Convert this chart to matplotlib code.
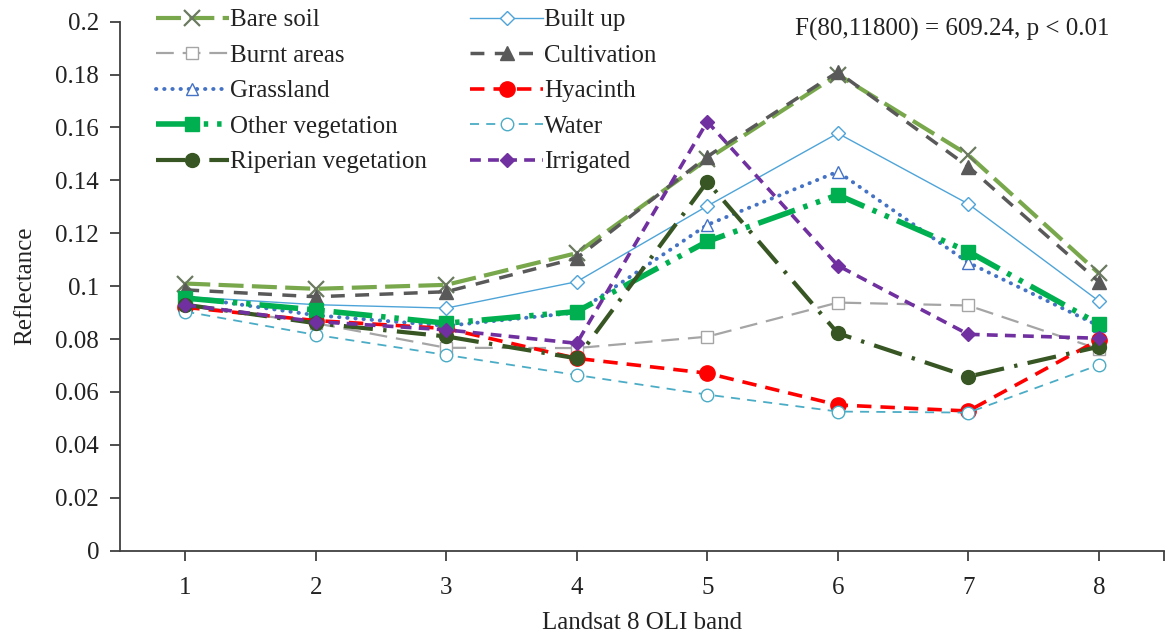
import matplotlib
matplotlib.use("Agg")
import matplotlib.pyplot as plt
from matplotlib.ticker import FuncFormatter, FixedLocator

bands = [1, 2, 3, 4, 5, 6, 7, 8]
band_labels = ["1", "2", "3", "4", "5", "6", "7", "8"]

bare_soil = [0.101, 0.099, 0.1005, 0.1125, 0.148, 0.180, 0.1496, 0.1049]
built_up = [0.096, 0.093, 0.0917, 0.1017, 0.1303, 0.1578, 0.1311, 0.0944]
burnt_areas = [0.093, 0.086, 0.0767, 0.0766, 0.0809, 0.0938, 0.0927, 0.0762]
cultivation = [0.0986, 0.096, 0.0979, 0.1106, 0.149, 0.181, 0.1452, 0.1017]
grassland = [0.096, 0.089, 0.085, 0.090, 0.1232, 0.1433, 0.1089, 0.085]
hyacinth = [0.092, 0.087, 0.084, 0.0727, 0.0671, 0.0551, 0.0528, 0.0797]
other_vegetation = [0.0955, 0.091, 0.086, 0.0904, 0.1169, 0.1345, 0.1131, 0.0857]
water = [0.0904, 0.0816, 0.074, 0.0664, 0.059, 0.0526, 0.0522, 0.0702]
riperian_vegetation = [0.093, 0.086, 0.081, 0.0727, 0.1395, 0.0822, 0.0658, 0.0771]
irrigated = [0.0929, 0.0866, 0.0835, 0.0784, 0.1622, 0.1078, 0.0818, 0.0803]

names = ["Bare soil", "Built up", "Burnt areas", "Cultivation", "Grassland",
         "Hyacinth", "Other vegetation", "Water", "Riperian vegetation", "Irrigated"]
series = [bare_soil, built_up, burnt_areas, cultivation, grassland,
          hyacinth, other_vegetation, water, riperian_vegetation, irrigated]

styles = [
    dict(color="#78a84b", lw=3.0, ls=(0, (6, 2)), marker="x", ms=12, mew=1.6, mfc="#78a84b", mec="#6b7a60"),
    dict(color="#4ea4d8", lw=1.0, ls="-", marker="D", ms=7, mew=1.0, mfc="white", mec="#4ea4d8"),
    dict(color="#a5a5a5", lw=1.6, ls=(0, (8, 4)), marker="s", ms=8, mew=1.0, mfc="white", mec="#a5a5a5"),
    dict(color="#595959", lw=2.5, ls=(0, (4, 3)), marker="^", ms=10, mew=1.0, mfc="#595959", mec="#595959"),
    dict(color="#4472c4", lw=2.8, ls=(0, (0.1, 2.0)), marker="^", ms=9, mew=1.0, mfc="white", mec="#4472c4"),
    dict(color="#ff0000", lw=2.6, ls=(0, (4, 2.5)), marker="o", ms=11, mew=1.0, mfc="#ff0000", mec="#ff0000"),
    dict(color="#00b050", lw=4.0, ls=(0, (7, 1.6, 0.8, 1.6, 0.8, 1.6)), marker="s", ms=10, mew=1.0, mfc="#00b050", mec="#00b050"),
    dict(color="#4bacc6", lw=1.3, ls=(0, (5, 4)), marker="o", ms=9, mew=1.0, mfc="white", mec="#4bacc6"),
    dict(color="#375623", lw=3.0, ls=(0, (7, 2.5, 0.8, 2.5)), marker="o", ms=10, mew=1.0, mfc="#375623", mec="#375623"),
    dict(color="#7030a0", lw=2.6, ls=(0, (3, 2)), marker="D", ms=7, mew=1.0, mfc="#7030a0", mec="#7030a0"),
]

plt.rcParams['font.family'] = ['Liberation Serif', 'DejaVu Serif']
FS = 18

fig = plt.figure(figsize=(11.72, 6.37), dpi=100)
ax = fig.add_axes([0.1024, 0.1355, 0.8908, 0.8305])

handles = []
for name, vals, st in zip(names, series, styles):
    h, = ax.plot(bands, vals, color=st["color"], lw=st["lw"], linestyle=st["ls"],
                 marker=st["marker"], markersize=st["ms"], markeredgewidth=st["mew"],
                 markerfacecolor=st["mfc"], markeredgecolor=st["mec"], label=name)
    if name == "Grassland":
        h.set_dash_capstyle("round")
    handles.append(h)

ax.set_xlim(0.5, 8.5)
ax.set_ylim(0, 0.2)
ax.xaxis.set_major_locator(FixedLocator(bands + [8.5]))
ax.xaxis.set_major_formatter(FuncFormatter(lambda v, p: band_labels[int(round(v)) - 1] if abs(v - round(v)) < 1e-6 and 1 <= round(v) <= 8 else ""))
ax.set_yticks([0, 0.02, 0.04, 0.06, 0.08, 0.1, 0.12, 0.14, 0.16, 0.18, 0.2])
ax.yaxis.set_major_formatter(FuncFormatter(lambda v, p: "%g" % round(v, 2)))

for s in ["top", "right"]:
    ax.spines[s].set_visible(False)
for s in ["left", "bottom"]:
    ax.spines[s].set_color("#404040")
    ax.spines[s].set_linewidth(1.3)
ax.tick_params(axis="both", direction="out", length=7, width=1.3, color="#404040",
               labelsize=FS, labelcolor="#222222")
ax.tick_params(axis="x", pad=12)
ax.tick_params(axis="y", pad=8)

ax.set_ylabel("Reflectance", fontsize=FS, color="#222222", labelpad=14)
ax.set_xlabel("Landsat 8 OLI band", fontsize=FS, color="#222222", labelpad=9)

order = [0, 2, 4, 6, 8, 1, 3, 5, 7, 9]
leg = ax.legend([handles[i] for i in order], [names[i] for i in order], ncol=2,
                loc="upper left", bbox_to_anchor=(0.025, 1.043), frameon=False,
                fontsize=FS, handlelength=2.9, handletextpad=0.05,
                columnspacing=1.75, labelspacing=0.52, borderaxespad=0)
for t in leg.get_texts():
    t.set_color("#222222")

ax.text(0.948, 0.985, "F(80,11800) = 609.24, p < 0.01", transform=ax.transAxes,
        ha="right", va="center", fontsize=FS, color="#222222")

fig.savefig("out.png", dpi=100)
